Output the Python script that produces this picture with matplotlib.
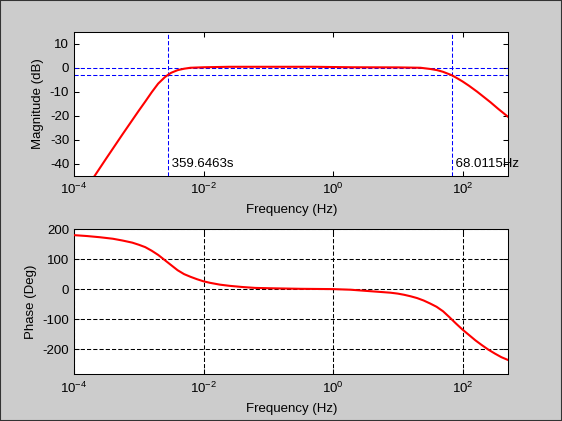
import numpy as np
import matplotlib
matplotlib.use('Agg')
import matplotlib.pyplot as plt
from matplotlib.ticker import NullLocator
from matplotlib.patches import Rectangle

plt.rcParams['font.family'] = ['Liberation Sans', 'DejaVu Sans']
plt.rcParams['mathtext.default'] = 'regular'
plt.rcParams['axes.unicode_minus'] = False
plt.rcParams['lines.scale_dashes'] = False

# corner values printed on the chart
t_low = 359.6463   # s  -> low corner at 1/t_low Hz
f_high = 68.0115   # Hz

# magnitude curve (log10 of frequency, dB)
mag_logf = [-3.68, -3.5, -3.25, -3.0, -2.9, -2.8, -2.7, -2.6, -2.556, -2.5, -2.4,
            -2.3, -2.2, -2.0, -1.6, -0.3, 0.3, 1.0, 1.35, 1.5, 1.608, 1.7, 1.833,
            1.9, 2.0, 2.1, 2.227, 2.33, 2.433, 2.55, 2.71]
mag_db = [-44.9, -37.6, -27.6, -17.8, -14.0, -10.1, -6.5, -3.9, -3.0, -2.0, -0.9,
          -0.3, 0.1, 0.3, 0.5, 0.5, 0.3, 0.25, 0.1, -0.4, -0.9, -1.6, -3.0,
          -4.0, -5.6, -7.4, -9.9, -12.1, -14.3, -17.0, -20.5]

# phase curve (log10 of frequency, degrees)
ph_logf = [-4.0, -3.8, -3.6, -3.4, -3.25, -3.1, -3.0, -2.9, -2.8, -2.7, -2.6,
           -2.5, -2.4, -2.3, -2.2, -2.1, -2.0, -1.9, -1.75, -1.6, -1.4, -1.2,
           -1.0, -0.5, 0.0, 0.27, 0.58, 0.89, 1.0, 1.1, 1.2, 1.3, 1.4, 1.5,
           1.6, 1.7, 1.8, 1.9, 2.0, 2.1, 2.2, 2.3, 2.4, 2.5, 2.6, 2.71]
phase_deg = [181, 178, 174, 169, 163, 156, 149, 141, 129, 115, 98,
             81, 64, 51, 42, 34, 27, 22, 16, 12, 8, 5,
             4, 2, 1, -1, -6, -11, -14, -18, -23, -29, -37, -47,
             -58, -73, -93, -114, -134, -152, -170, -186, -201, -214, -226, -236]

xticks = [1e-4, 1e-2, 1e0, 1e2]
xlim = (1e-4, 512)

fig = plt.figure(figsize=(5.62, 4.21), dpi=100, facecolor='#cccccc')
ax1 = fig.add_axes([0.1317, 0.582, 0.773, 0.342])
ax2 = fig.add_axes([0.1317, 0.111, 0.773, 0.344])

dash = (3, 1.5)

# magnitude
f_mag = 10 ** np.array(mag_logf)
ax1.plot(f_mag, mag_db, color='red', lw=1.5, zorder=3)
ax1.axhline(0, color='blue', lw=0.75, ls=(0, dash), zorder=2)
ax1.axhline(-3, color='blue', lw=0.75, ls=(0, dash), zorder=2)
ax1.axvline(1 / t_low, color='blue', lw=0.75, ls=(0, dash), zorder=2)
ax1.axvline(f_high, color='blue', lw=0.75, ls=(0, dash), zorder=2)
ax1.text(1 / t_low, -40, ' %.4fs' % t_low, fontsize=9.5, va='center', ha='left')
ax1.text(f_high, -40, ' %.4fHz' % f_high, fontsize=9.5, va='center', ha='left')
ax1.set_ylim(-45, 15)
ax1.set_yticks([10, 0, -10, -20, -30, -40])
ax1.set_ylabel('Magnitude (dB)', fontsize=9.5)

# phase
f_ph = 10 ** np.array(ph_logf)
ax2.plot(f_ph, phase_deg, color='red', lw=1.5, zorder=3)
ax2.set_ylim(-283, 200)
ax2.set_yticks([200, 100, 0, -100, -200])
ax2.set_ylabel('Phase (Deg)', fontsize=9.5)
ax2.grid(True, color='black', lw=0.75, ls=(0, dash))

for ax in (ax1, ax2):
    ax.set_xscale('log')
    ax.set_xlim(*xlim)
    ax.set_xticks(xticks)
    ax.xaxis.set_minor_locator(NullLocator())
    ax.set_xlabel('Frequency (Hz)', fontsize=9.5, labelpad=5)
    ax.tick_params(direction='in', top=True, right=True, length=3.5,
                   width=0.75, labelsize=9.5)
    ax.tick_params(axis='x', pad=4.5)
    for s in ax.spines.values():
        s.set_linewidth(0.75)

fig.patches.append(Rectangle((0, 0), 1, 1, transform=fig.transFigure,
                             fill=False, edgecolor='#333333', lw=1.5))

fig.savefig('out.png', dpi=100, facecolor=fig.get_facecolor())
